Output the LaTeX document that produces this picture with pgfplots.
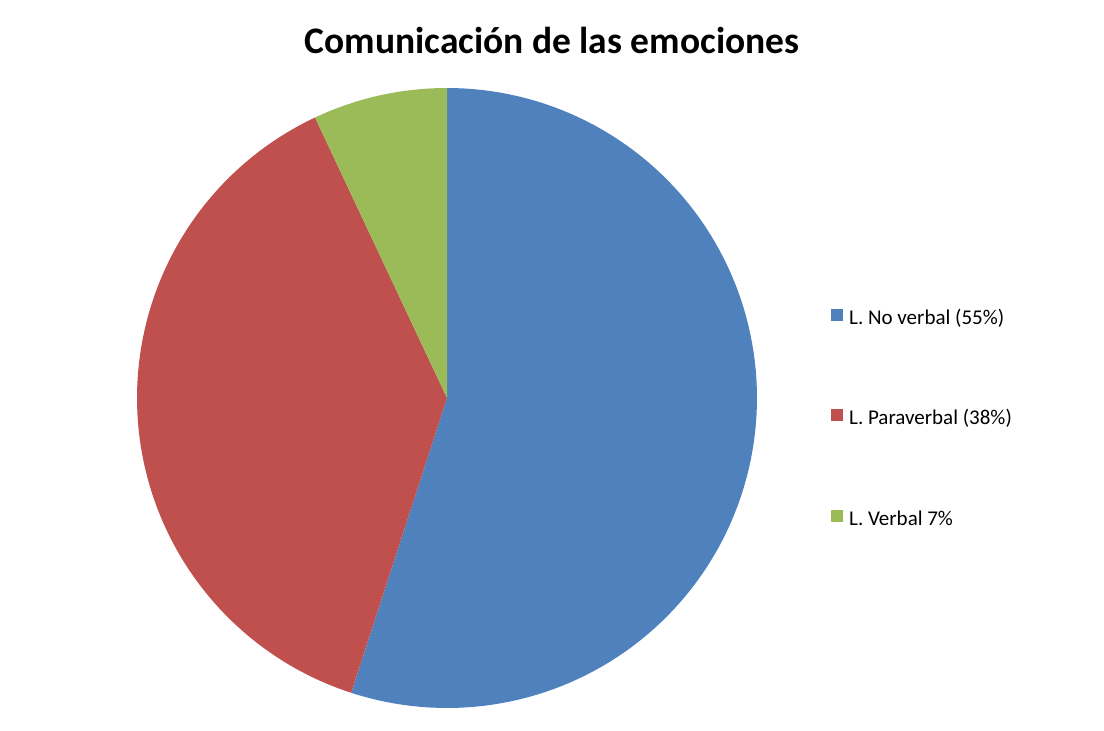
\documentclass[border=0pt]{standalone}
\usepackage{pgfplots}
\pgfplotsset{compat=1.18}
\usepackage{fontspec}
\setmainfont{Carlito}
\definecolor{cblue}{HTML}{4F81BD}
\definecolor{cred}{HTML}{C0504D}
\definecolor{cgreen}{HTML}{9BBB59}
% shares (percent)
\def\vA{55}\def\vB{38}\def\vC{7}
\pgfmathsetmacro{\aA}{90}
\pgfmathsetmacro{\aB}{90-3.6*\vA}
\pgfmathsetmacro{\aC}{\aB-3.6*\vB}
\pgfmathsetmacro{\aD}{\aC-3.6*\vC}
\def\cx{447}\def\cy{333}\def\rr{310}
\begin{document}
\begin{tikzpicture}
\begin{axis}[
  scale only axis, width=1104pt, height=731pt,
  xmin=0, xmax=1104, ymin=0, ymax=731,
  hide axis, clip=false,
  legend style={at={(axis cs:828,425)}, anchor=north west, draw=none, fill=none,
    font=\fontsize{21}{24}\selectfont, row sep=77.5pt,
    nodes={text height=14pt, text depth=5pt, inner xsep=6pt}},
  legend cell align=left,
  legend image code/.code={\fill[#1] (0pt,-1pt) rectangle (12pt,11pt);},
]
\addplot[draw=none, forget plot] coordinates {(0,0) (1104,731)};
\addplot[fill=cblue, draw=none, domain=\aB:\aA, samples=120]
  ({\cx+\rr*cos(x)},{\cy+\rr*sin(x)}) -- (axis cs:\cx,\cy) -- cycle;
\addlegendentry{L. No verbal (55\%)}
\addplot[fill=cred, draw=none, domain=\aC:\aB, samples=90]
  ({\cx+\rr*cos(x)},{\cy+\rr*sin(x)}) -- (axis cs:\cx,\cy) -- cycle;
\addlegendentry{L. Paraverbal (38\%)}
\addplot[fill=cgreen, draw=none, domain=\aD:\aC, samples=20]
  ({\cx+\rr*cos(x)},{\cy+\rr*sin(x)}) -- (axis cs:\cx,\cy) -- cycle;
\addlegendentry{L. Verbal 7\%}
\node[font=\bfseries\fontsize{37.5}{42}\selectfont, anchor=center] at (axis cs:552,691) {Comunicación de las emociones};
\end{axis}
\end{tikzpicture}
\end{document}
